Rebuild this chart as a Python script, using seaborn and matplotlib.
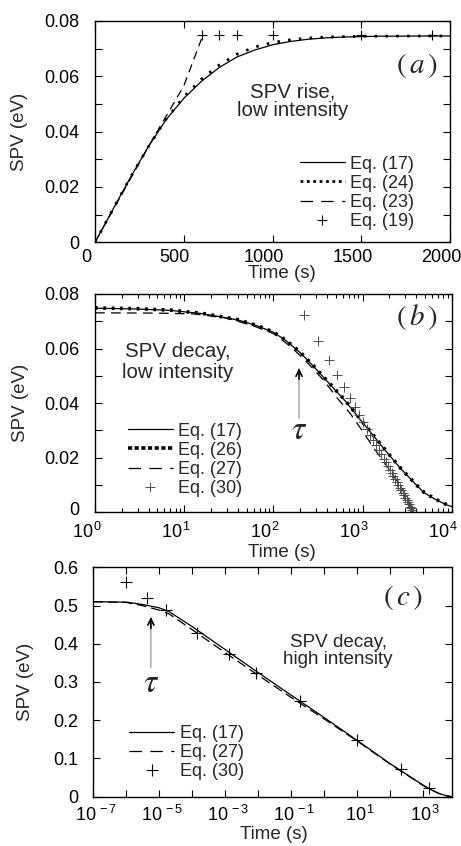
import numpy as np
import pandas as pd
import matplotlib
matplotlib.use("Agg")
import matplotlib.pyplot as plt
import seaborn as sns
from matplotlib.lines import Line2D
from matplotlib.ticker import NullLocator, LogLocator, NullFormatter
from matplotlib.transforms import ScaledTranslation

# ---------------- data: panel (a) SPV rise, low intensity ----------------
a_t_eq17 = [0, 100, 200, 300, 400, 500, 600, 700, 800, 900, 1000, 1100, 1200, 1300, 1400, 1600, 2000]
a_v_eq17 = [0, 0.0118, 0.0235, 0.0345, 0.0443, 0.0520, 0.0582, 0.0632, 0.0670, 0.0695, 0.0714,
            0.0726, 0.0734, 0.0739, 0.0742, 0.0745, 0.0746]
a_t_eq24 = [0, 100, 200, 300, 400, 500, 600, 700, 800, 900, 1000, 1100, 1200, 1300, 1500, 2000]
a_v_eq24 = [0, 0.0118, 0.0235, 0.0345, 0.0445, 0.0525, 0.0590, 0.0641, 0.0680, 0.0706, 0.0722,
            0.0732, 0.0738, 0.0742, 0.0745, 0.0746]
a_t_eq23 = [0, 100, 200, 300, 400, 500, 550, 600]
a_v_eq23 = [0, 0.0115, 0.0230, 0.0345, 0.0455, 0.0565, 0.0650, 0.0735]
a_t_eq19 = [600, 700, 800, 1000, 1500, 1900]
a_v_eq19 = [0.0748, 0.0748, 0.0748, 0.0748, 0.0748, 0.0748]

# ---------------- data: panel (b) SPV decay, low intensity ----------------
b_t_eq17 = [1, 3, 7, 16, 40, 65, 100, 140, 200, 280, 420, 640, 920, 1240, 1800, 2600, 3900,
            4900, 6500, 8800, 10000]
b_v_eq17 = [0.0748, 0.0745, 0.0740, 0.0728, 0.0705, 0.0684, 0.0660, 0.0628, 0.0585, 0.0536,
            0.0473, 0.0408, 0.0344, 0.0292, 0.0227, 0.0165, 0.0104, 0.0072, 0.0048, 0.0027, 0.0021]
b_t_eq26 = [1, 3, 7, 16, 40, 65, 100, 140, 200, 280, 420, 640, 920, 1240, 1800, 2600, 3900,
            4900, 6500, 8800, 10000]
b_v_eq26 = [0.0749, 0.0746, 0.0741, 0.0729, 0.0706, 0.0685, 0.0661, 0.0629, 0.0587, 0.0538,
            0.0475, 0.0410, 0.0346, 0.0294, 0.0229, 0.0166, 0.0105, 0.0073, 0.0049, 0.0028, 0.0022]
b_t_eq27 = [1, 5, 13, 30, 60, 100, 150, 220, 364, 535, 724, 980, 1320, 1870, 2630, 3100, 3720]
b_v_eq27 = [0.0731, 0.0730, 0.0727, 0.0712, 0.0683, 0.0655, 0.0612, 0.0562, 0.0485, 0.0414,
            0.0363, 0.0302, 0.0238, 0.0170, 0.0100, 0.0058, 0.0]
b_t_eq30 = [220, 320, 420, 520, 620, 720, 820, 920, 1020, 1120, 1220, 1320, 1420, 1520, 1620,
            1720, 1820, 1920, 2020, 2120, 2220, 2320, 2420, 2520, 2620, 2720, 2820, 2920, 3020,
            3120, 3220, 3320, 3420, 3520, 3620, 3720]
b_v_eq30 = [0.0723, 0.0627, 0.0558, 0.0503, 0.0458, 0.0420, 0.0387, 0.0357, 0.0331, 0.0307,
            0.0285, 0.0265, 0.0246, 0.0229, 0.0212, 0.0197, 0.0183, 0.0169, 0.0156, 0.0144,
            0.0132, 0.0121, 0.0110, 0.0100, 0.0090, 0.0080, 0.0071, 0.0062, 0.0053, 0.0045,
            0.0037, 0.0029, 0.0021, 0.0014, 0.0007, 0.0]

# ---------------- data: panel (c) SPV decay, high intensity ----------------
c_t_eq17 = [1e-7, 1e-6, 3e-6, 1e-5, 2e-5, 1e-4, 1e-3, 1e-2, 1e-1, 1, 10, 100, 1000, 1500, 3000, 5000, 7600]
c_v_eq17 = [0.510, 0.509, 0.503, 0.494, 0.484, 0.445, 0.385, 0.325, 0.266, 0.2075, 0.148, 0.087,
            0.031, 0.022, 0.009, 0.003, 0.0]
c_t_eq27 = [1e-7, 1e-6, 3e-6, 1e-5, 2e-5, 1e-4, 1e-3, 1e-2, 1e-1, 1, 10, 100, 1000, 1500, 3000, 5000, 7600]
c_v_eq27 = [0.510, 0.508, 0.500, 0.488, 0.478, 0.437, 0.377, 0.318, 0.260, 0.204, 0.146, 0.086,
            0.030, 0.021, 0.009, 0.003, 0.0]
c_t_eq30 = [1e-6, 4.2e-6, 1.6e-5, 1.4e-4, 1.3e-3, 9e-3, 0.19, 10, 214, 1580]
c_v_eq30 = [0.561, 0.521, 0.488, 0.427, 0.372, 0.323, 0.251, 0.148, 0.072, 0.022]

# ---------------- ticks / labels ----------------
a_yticks = [0, 0.01, 0.02, 0.03, 0.04, 0.05, 0.06, 0.07, 0.08]
a_yticklabels = ["0", "", "0.02", "", "0.04", "", "0.06", "", "0.08"]
a_xticks = [0, 500, 1000, 1500, 2000]
a_xticklabels = ["0", "500", "1000", "1500", "2000"]
b_yticks = a_yticks
b_yticklabels = a_yticklabels
b_xticks = [1, 10, 100, 1000, 10000]
b_xticklabels = [r"$\mathregular{10^{\,0}}$", r"$\mathregular{10^{\,1}}$", r"$\mathregular{10^{\,2}}$",
                 r"$\mathregular{10^{\,3}}$", r"$\mathregular{10^{\,4}}$"]
c_yticks = [0, 0.1, 0.2, 0.3, 0.4, 0.5, 0.6]
c_yticklabels = ["0", "0.1", "0.2", "0.3", "0.4", "0.5", "0.6"]
c_xticks = [1e-7, 1e-6, 1e-5, 1e-4, 1e-3, 1e-2, 1e-1, 1, 10, 100, 1000]
c_xticklabels = [r"$\mathregular{10^{\,-7}}$", "", r"$\mathregular{10^{\,-5}}$", "", r"$\mathregular{10^{\,-3}}$", "",
                 r"$\mathregular{10^{\,-1}}$", "", r"$\mathregular{10^{\,1}}$", "", r"$\mathregular{10^{\,3}}$"]

# ---------------- style ----------------
sns.set_style("ticks")
plt.rcParams["font.family"] = ["Liberation Sans", "DejaVu Sans"]
plt.rcParams["mathtext.fontset"] = "custom"
plt.rcParams["mathtext.rm"] = "Liberation Sans"
plt.rcParams["mathtext.it"] = "Liberation Sans:italic"
plt.rcParams["mathtext.bf"] = "Liberation Sans:bold"
plt.rcParams["lines.scale_dashes"] = False

FS = 13
fig = plt.figure(figsize=(4.61, 8.46), dpi=100)
W, H = 461.0, 846.0


def add_ax(l, r, t, b):
    return fig.add_axes([l / W, 1 - b / H, (r - l) / W, (b - t) / H])


axa = add_ax(95, 450, 21, 242.3)
axb = add_ax(95, 451.7, 294, 512.3)
axc = add_ax(93.3, 451.7, 567.3, 796.7)


def style(ax):
    ax.tick_params(which="both", direction="in", top=True, right=True, length=5, width=0.8,
                   labelsize=FS, colors="k")
    ax.tick_params(which="minor", length=3)
    for s in ax.spines.values():
        s.set_linewidth(1.0)
        s.set_color("k")


def line(ax, x, y, **kw):
    df = pd.DataFrame({"t": x, "v": y})
    sns.lineplot(data=df, x="t", y="v", ax=ax, errorbar=None, sort=True, **kw)


# ---------------- panel (a) ----------------
line(axa, a_t_eq17, a_v_eq17, color="k", lw=0.9)
line(axa, a_t_eq24, a_v_eq24, color="k", lw=2.0, linestyle=(0, (1.8, 6.0)))
line(axa, a_t_eq23, a_v_eq23, color="k", lw=0.9, linestyle=(0, (6.0, 4.0)))
line(axa, a_t_eq19, a_v_eq19, color="k", marker="+", linestyle="", ms=7, mew=0.8, mec="k")
axa.set_xlim(0, 2000)
axa.set_ylim(0, 0.08)
axa.set_xticks(a_xticks)
axa.set_xticklabels(a_xticklabels)
axa.set_yticks(a_yticks)
axa.set_yticklabels(a_yticklabels)
style(axa)

# ---------------- panel (b) ----------------
line(axb, b_t_eq17, b_v_eq17, color="k", lw=0.9)
line(axb, b_t_eq26, b_v_eq26, color="k", lw=2.6, linestyle=(0, (2.0, 4.0)))
line(axb, b_t_eq27, b_v_eq27, color="k", lw=0.9, linestyle=(0, (7.0, 4.5)))
line(axb, b_t_eq30, b_v_eq30, color="0.3", marker="+", linestyle="", ms=7, mew=0.7, mec="0.3")
axb.set_xscale("log")
axb.set_xlim(1, 1e4)
axb.set_ylim(0, 0.08)
axb.set_xticks(b_xticks)
axb.set_xticklabels(b_xticklabels)
axb.xaxis.set_minor_locator(LogLocator(base=10, subs=np.arange(2, 10)))
axb.xaxis.set_minor_formatter(NullFormatter())
axb.set_yticks(b_yticks)
axb.set_yticklabels(b_yticklabels)
style(axb)

# ---------------- panel (c) ----------------
line(axc, c_t_eq17, c_v_eq17, color="k", lw=0.9)
line(axc, c_t_eq27, c_v_eq27, color="k", lw=0.9, linestyle=(0, (7.0, 3.5)))
line(axc, c_t_eq30, c_v_eq30, color="k", marker="+", linestyle="", ms=8, mew=0.8, mec="k")
axc.set_xscale("log")
axc.set_xlim(1e-7, 7.6e3)
axc.set_ylim(0, 0.6)
axc.set_xticks(c_xticks)
axc.set_xticklabels(c_xticklabels)
axc.xaxis.set_minor_locator(NullLocator())
axc.set_yticks(c_yticks)
axc.set_yticklabels(c_yticklabels)
style(axc)

for ax in (axa, axb, axc):
    ax.set_xlabel("Time (s)", fontsize=13.5)
    ax.set_ylabel("SPV (eV)", fontsize=13.5)
    ax.xaxis.label.set_va("center")
    ax.yaxis.label.set_va("center")
    ax.tick_params(axis="y", pad=11)
    ax.tick_params(axis="x", pad=5)
axb.tick_params(axis="x", pad=7)
axc.tick_params(axis="x", pad=6)

axa.xaxis.set_label_coords(0.527, -0.139)
axb.xaxis.set_label_coords(0.524, -0.182)
axc.xaxis.set_label_coords(0.503, -0.163)
axa.yaxis.set_label_coords(-0.213, 0.5)
axb.yaxis.set_label_coords(-0.210, 0.5)
axc.yaxis.set_label_coords(-0.189, 0.5)

# decade / linear labels sit slightly off their ticks in the original
for ax, dx in ((axa, -9), (axb, -8), (axc, 3)):
    off = ScaledTranslation(dx / 100, 0, fig.dpi_scale_trans)
    for lab in ax.get_xticklabels():
        lab.set_transform(lab.get_transform() + off)
# the "0" of panel (b) sits a little above its tick
up = ScaledTranslation(0, 4 / 100, fig.dpi_scale_trans)
lab0 = axb.get_yticklabels()[0]
lab0.set_transform(lab0.get_transform() + up)

# ---------------- legends ----------------
leg_kw = dict(frameon=False, fontsize=FS, handlelength=2.5, handletextpad=0.3,
              labelspacing=0.12, borderpad=0, borderaxespad=0)
ha = [Line2D([], [], color="k", lw=0.9),
      Line2D([], [], color="k", lw=2.0, linestyle=(0, (2.0, 2.6))),
      Line2D([], [], color="k", lw=0.9, linestyle=(0, (9.0, 6.0))),
      Line2D([], [], color="k", marker="+", linestyle="", ms=7, mew=0.8)]
axa.legend(ha, ["Eq. (17)", "Eq. (24)", "Eq. (23)", "Eq. (19)"], loc="lower right",
           bbox_to_anchor=(0.9, 0.055), **leg_kw)
hb = [Line2D([], [], color="k", lw=0.9),
      Line2D([], [], color="k", lw=2.6, linestyle=(0, (3.0, 1.8))),
      Line2D([], [], color="k", lw=0.9, linestyle=(0, (9.0, 6.0))),
      Line2D([], [], color="0.3", marker="+", linestyle="", ms=7, mew=0.7)]
axb.legend(hb, ["Eq. (17)", "Eq. (26)", "Eq. (27)", "Eq. (30)"], loc="lower left",
           bbox_to_anchor=(0.092, 0.07), **leg_kw)
hc = [Line2D([], [], color="k", lw=0.9),
      Line2D([], [], color="k", lw=0.9, linestyle=(0, (9.0, 6.0))),
      Line2D([], [], color="k", marker="+", linestyle="", ms=8, mew=0.8)]
axc.legend(hc, ["Eq. (17)", "Eq. (27)", "Eq. (30)"], loc="lower left",
           bbox_to_anchor=(0.10, 0.072), **leg_kw)

# ---------------- annotations ----------------
axa.text(0.558, 0.638, "SPV rise,\nlow intensity", transform=axa.transAxes, ha="center",
         va="center", fontsize=14.8, linespacing=1.0)
axb.text(0.233, 0.688, "SPV decay,\nlow intensity", transform=axb.transAxes, ha="center",
         va="center", fontsize=14.8, linespacing=1.1)
axc.text(0.683, 0.635, "SPV decay,\nhigh intensity", transform=axc.transAxes, ha="center",
         va="center", fontsize=13.6, linespacing=1.0)

axa.text(0.905, 0.80, r"$(\,a\,)$", transform=axa.transAxes, ha="center", va="center",
         fontsize=21, math_fontfamily="stix")
axb.text(0.903, 0.895, r"$(\,b\,)$", transform=axb.transAxes, ha="center", va="center",
         fontsize=21, math_fontfamily="stix")
axc.text(0.864, 0.87, r"$(\,c\,)$", transform=axc.transAxes, ha="center", va="center",
         fontsize=21, math_fontfamily="stix")


def tau_arrow(ax, x, y_tip, y_tail, y_tau, head_len):
    ax.annotate("", xy=(x, y_tip), xytext=(x, y_tail),
                arrowprops=dict(arrowstyle="-", color="0.55", lw=0.8, shrinkA=0, shrinkB=0))
    ax.annotate("", xy=(x, y_tip), xytext=(x, y_tip - head_len),
                arrowprops=dict(arrowstyle="->,head_length=0.45,head_width=0.22", color="k",
                                lw=1.2, shrinkA=0, shrinkB=0))
    ax.text(x, y_tau, r"$\tau$", ha="center", va="center", fontsize=24, math_fontfamily="stix")


tau_arrow(axb, 194, 0.0528, 0.0344, 0.0300, 0.004)
tau_arrow(axc, 5.6e-6, 0.470, 0.337, 0.297, 0.03)

fig.savefig("out.png", dpi=100)
